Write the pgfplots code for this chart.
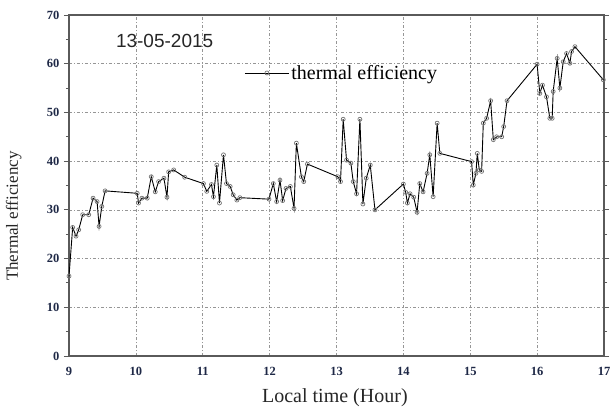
\documentclass[border=0pt]{standalone}
\usepackage{fontspec}
\setmainfont{Liberation Serif}
\newfontfamily\sansf{Liberation Sans}
\usepackage{pgfplots}
\pgfplotsset{compat=1.18}

\definecolor{axisgray}{RGB}{90,90,90}
\definecolor{gridgray}{RGB}{150,150,150}
\definecolor{ticknavy}{RGB}{30,40,70}

\begin{document}
\begin{tikzpicture}
\begin{axis}[
  scale only axis,
  width=535pt, height=341pt,
  xmin=9, xmax=17, ymin=0, ymax=70,
  xtick={9,10,...,17},
  ytick={0,10,...,70},
  minor y tick num=1,
  grid=major,
  major grid style={gridgray, dash pattern=on 3pt off 2pt on 1pt off 2pt, line width=0.7pt},
  axis line style={axisgray, line width=1.6pt},
  tick style={axisgray, line width=1pt},
  tick align=outside,
  x tick style={draw=none},
  major tick length=5pt,
  minor tick length=3pt,
  /pgf/number format/assume math mode=true,
  ticklabel style={font=\bfseries\fontsize{12.5}{13}\selectfont, text=ticknavy},
  xticklabel style={yshift=-3pt},
  yticklabel style={xshift=-1pt},
  xlabel={Local time (Hour)},
  ylabel={Thermal efficiency},
  xlabel style={font=\fontsize{20}{22}\selectfont, text=black!85,
    at={(axis description cs:0.497,0)}, anchor=north, yshift=-29pt},
  ylabel style={font=\fontsize{17}{19}\selectfont, text=black!85,
    at={(axis description cs:0,0.41)}, anchor=south, yshift=44pt},
  legend style={draw=none, fill=none, at={(axis description cs:0.322,0.83)}, anchor=west,
    font=\fontsize{20}{22}\selectfont},
  legend cell align=left,
  legend image code/.code={%
    \draw[#1, mark repeat=2, mark phase=2] plot coordinates {(0pt,0pt) (22pt,0pt) (44pt,0pt)};},
]
\addplot[black, line width=0.9pt, mark=o, mark size=2pt,
  mark options={black!55, line width=0.7pt, solid}] coordinates {
(9.00,16.4) (9.055,26.4) (9.105,24.6) (9.145,25.9) (9.205,29.0) (9.295,29.0)
(9.36,32.4) (9.42,31.7) (9.45,26.6) (9.49,30.7) (9.54,33.9)
(10.02,33.4) (10.04,31.4) (10.09,32.4) (10.17,32.4) (10.23,36.8) (10.29,33.7)
(10.34,35.8) (10.42,36.5) (10.465,32.6) (10.49,37.8) (10.565,38.2) (10.73,36.7)
(11.01,35.4) (11.06,33.8) (11.13,35.2) (11.16,32.7) (11.21,39.2) (11.25,31.4)
(11.31,41.3) (11.355,35.4) (11.41,34.8) (11.455,33.1) (11.51,32.0) (11.555,32.5)
(11.99,32.2) (12.055,35.4) (12.105,31.7) (12.155,36.1) (12.195,31.9) (12.245,34.4)
(12.31,34.8) (12.365,30.3) (12.40,43.7) (12.475,36.8) (12.51,35.8) (12.565,39.4)
(13.02,36.8) (13.06,35.8) (13.10,48.6) (13.15,40.2) (13.215,39.6) (13.25,35.8)
(13.30,33.3) (13.35,48.6) (13.395,31.2) (13.445,36.5) (13.505,39.2) (13.575,30.0)
(14.00,35.3) (14.035,33.6) (14.06,31.4) (14.10,33.3) (14.155,32.6) (14.205,29.5)
(14.245,35.4) (14.295,33.7) (14.355,37.5) (14.395,41.3) (14.445,32.7) (14.505,47.8)
(14.545,41.6)
(15.02,39.9) (15.045,35.1) (15.085,37.5) (15.105,41.6) (15.135,38.2) (15.17,37.9)
(15.195,47.8) (15.245,48.8) (15.305,52.4) (15.345,44.4) (15.395,45.0) (15.47,45.0)
(15.50,47.1) (15.55,52.4)
(16.00,59.9) (16.04,53.9) (16.08,55.6) (16.14,53.2) (16.19,48.8) (16.225,48.8)
(16.24,54.3) (16.30,61.1) (16.34,55.0) (16.39,60.4) (16.44,62.1) (16.49,60.1)
(16.515,62.5) (16.565,63.5) (16.99,56.7)
};
\addlegendentry{thermal efficiency}
\node[font=\sansf\fontsize{19}{21}\selectfont, text=black!85] at (axis cs:10.43,64.7) {13-05-2015};
\end{axis}
\pgfresetboundingbox
\path (-69pt,-54pt) rectangle (541pt,356pt);
\end{tikzpicture}
\end{document}
